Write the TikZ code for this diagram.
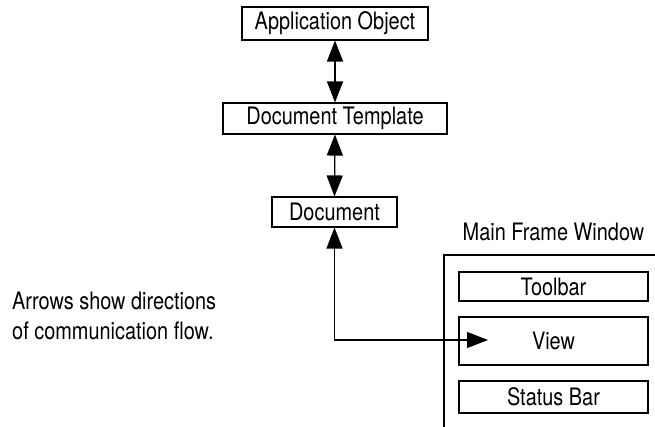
\documentclass[tikz,border=0pt]{standalone}
\usepackage{fontspec}
\setmainfont[FakeStretch=0.83]{TeX Gyre Heros}
\usetikzlibrary{arrows.meta}
\begin{document}
\begin{tikzpicture}[x=1pt,y=-1pt,
  box/.style={draw, line width=1.1pt, inner sep=0pt, font=\fontsize{24}{28}\selectfont},
  lbl/.style={inner sep=0pt, font=\fontsize{24}{30}\selectfont},
  tip/.tip={Triangle[length=21pt,width=16pt]},
  arr/.style={line width=1.3pt, tip-tip}]
\useasboundingbox (0,0) rectangle (655,427);
\node[box, minimum width=186pt, minimum height=33pt] (ao) at (335,23.5) {Application Object};
\node[box, minimum width=224pt, minimum height=31pt] (dt) at (335,118.5) {Document Template};
\node[box, minimum width=125pt, minimum height=30pt] (doc) at (334.5,212) {Document};
\node[lbl] (mfw) at (553.5,232) {Main Frame Window};
\draw[line width=1.1pt] (655,255) -- (444,255) -- (444,427);
\node[box, minimum width=189pt, minimum height=29pt] (tb) at (553.5,286.5) {Toolbar};
\node[box, minimum width=189pt, minimum height=48pt] (view) at (553.5,341) {View};
\node[box, minimum width=189pt, minimum height=32pt] (sb) at (553.5,397) {Status Bar};
\node[lbl, align=left, anchor=north west] (note) at (12,292) {Arrows show directions\\of communication flow.};
\coordinate (vtip) at (488,340);
\draw[arr] (ao.south) -- (dt.north);
\draw[arr] (dt.south) -- (doc.north);
\draw[arr] (doc.south) |- (vtip);
\end{tikzpicture}
\end{document}
